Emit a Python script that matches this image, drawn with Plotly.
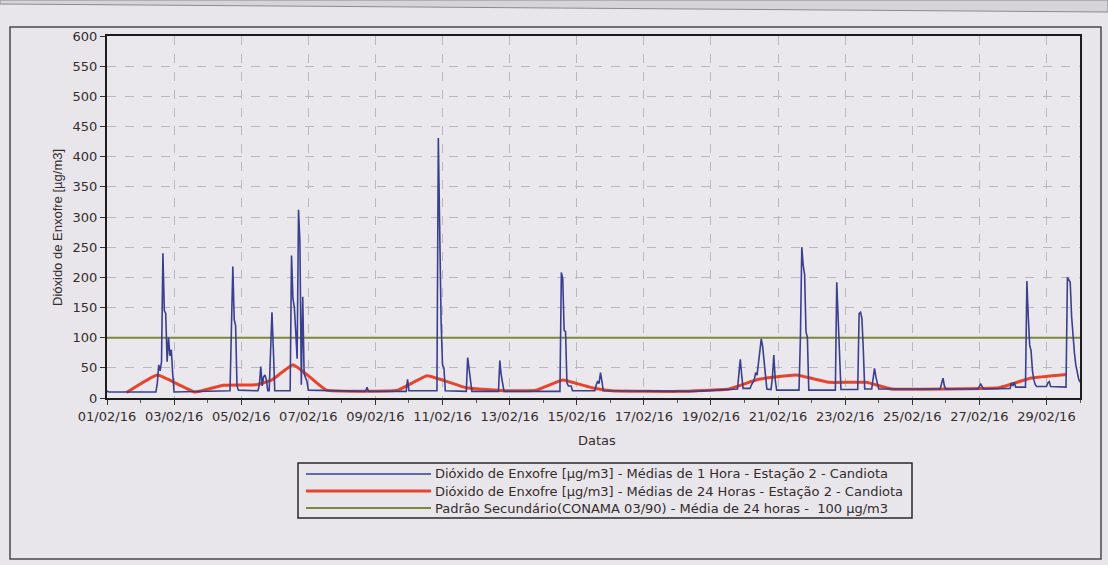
import plotly.graph_objects as go

# ---------------- data ----------------
blue_times = [
    "2016-02-01 00:00", "2016-02-01 01:00", "2016-02-02 11:00", "2016-02-02 12:00", "2016-02-02 13:00",
    "2016-02-02 14:00", "2016-02-02 15:00", "2016-02-02 16:00", "2016-02-02 17:00", "2016-02-02 18:00",
    "2016-02-02 19:00", "2016-02-02 20:00", "2016-02-02 21:00", "2016-02-02 22:00", "2016-02-02 23:00",
    "2016-02-03 00:00", "2016-02-04 16:00", "2016-02-04 17:00", "2016-02-04 18:00", "2016-02-04 19:00",
    "2016-02-04 20:00", "2016-02-04 21:00", "2016-02-04 22:00", "2016-02-05 12:00", "2016-02-05 13:00",
    "2016-02-05 14:00", "2016-02-05 15:00", "2016-02-05 16:00", "2016-02-05 17:00", "2016-02-05 18:00",
    "2016-02-05 19:00", "2016-02-05 20:00", "2016-02-05 21:00", "2016-02-05 22:00", "2016-02-05 23:00",
    "2016-02-06 00:00", "2016-02-06 11:00", "2016-02-06 12:00", "2016-02-06 13:00", "2016-02-06 14:00",
    "2016-02-06 15:00", "2016-02-06 16:00", "2016-02-06 17:00", "2016-02-06 18:00", "2016-02-06 19:00",
    "2016-02-06 20:00", "2016-02-06 21:00", "2016-02-06 22:00", "2016-02-06 23:00", "2016-02-07 00:00",
    "2016-02-08 17:00", "2016-02-08 18:00", "2016-02-08 19:00", "2016-02-09 22:00", "2016-02-09 23:00",
    "2016-02-10 00:00", "2016-02-10 20:00", "2016-02-10 21:00", "2016-02-10 22:00", "2016-02-10 23:00",
    "2016-02-11 00:00", "2016-02-11 01:00", "2016-02-11 02:00", "2016-02-11 17:00", "2016-02-11 18:00",
    "2016-02-11 19:00", "2016-02-11 20:00", "2016-02-11 21:00", "2016-02-12 16:00", "2016-02-12 17:00",
    "2016-02-12 18:00", "2016-02-12 19:00", "2016-02-12 20:00", "2016-02-14 12:00", "2016-02-14 13:00",
    "2016-02-14 14:00", "2016-02-14 15:00", "2016-02-14 16:00", "2016-02-14 17:00", "2016-02-14 18:00",
    "2016-02-14 20:00", "2016-02-14 21:00", "2016-02-15 13:00", "2016-02-15 14:00", "2016-02-15 15:00",
    "2016-02-15 16:00", "2016-02-15 17:00", "2016-02-15 18:00", "2016-02-15 19:00", "2016-02-18 12:00",
    "2016-02-19 12:00", "2016-02-19 19:00", "2016-02-19 20:00", "2016-02-19 21:00", "2016-02-19 22:00",
    "2016-02-19 23:00", "2016-02-20 04:00", "2016-02-20 05:00", "2016-02-20 07:00", "2016-02-20 08:00",
    "2016-02-20 09:00", "2016-02-20 10:00", "2016-02-20 11:00", "2016-02-20 12:00", "2016-02-20 13:00",
    "2016-02-20 14:00", "2016-02-20 15:00", "2016-02-20 16:00", "2016-02-20 19:00", "2016-02-20 20:00",
    "2016-02-20 21:00", "2016-02-20 22:00", "2016-02-20 23:00", "2016-02-21 15:00", "2016-02-21 16:00",
    "2016-02-21 17:00", "2016-02-21 18:00", "2016-02-21 19:00", "2016-02-21 20:00", "2016-02-21 21:00",
    "2016-02-21 22:00", "2016-02-22 17:00", "2016-02-22 18:00", "2016-02-22 19:00", "2016-02-22 20:00",
    "2016-02-22 21:00", "2016-02-23 09:00", "2016-02-23 10:00", "2016-02-23 11:00", "2016-02-23 12:00",
    "2016-02-23 13:00", "2016-02-23 14:00", "2016-02-23 19:00", "2016-02-23 20:00", "2016-02-23 21:00",
    "2016-02-23 22:00", "2016-02-23 23:00", "2016-02-24 00:00", "2016-02-25 20:00", "2016-02-25 21:00",
    "2016-02-25 22:00", "2016-02-25 23:00", "2016-02-26 00:00", "2016-02-26 23:00", "2016-02-27 01:00",
    "2016-02-27 03:00", "2016-02-27 22:00", "2016-02-27 23:00", "2016-02-28 00:00", "2016-02-28 01:00",
    "2016-02-28 02:00", "2016-02-28 09:00", "2016-02-28 10:00", "2016-02-28 11:00", "2016-02-28 12:00",
    "2016-02-28 13:00", "2016-02-28 14:00", "2016-02-28 15:00", "2016-02-28 16:00", "2016-02-28 17:00",
    "2016-02-29 00:00", "2016-02-29 01:00", "2016-02-29 02:00", "2016-02-29 03:00", "2016-02-29 14:00",
    "2016-02-29 15:00", "2016-02-29 16:00", "2016-02-29 17:00", "2016-02-29 18:00", "2016-02-29 19:00",
    "2016-02-29 20:00", "2016-02-29 21:00", "2016-02-29 22:00", "2016-02-29 23:00", "2016-03-01 00:00",
]
blue_values = [
    12, 10, 10, 25, 55,
    45, 60, 240, 145, 140,
    60, 100, 70, 80, 40,
    10, 12, 140, 218, 130,
    120, 20, 13, 12, 22,
    52, 20, 35, 38, 30,
    12, 12, 75, 142, 80,
    12, 12, 236, 165, 150,
    110, 65, 312, 258, 22,
    168, 40, 35, 28, 13,
    11, 18, 11, 11, 31,
    12, 12, 431, 275, 125,
    55, 50, 12, 11, 67,
    50, 25, 11, 11, 62,
    38, 25, 11, 11, 208,
    198, 112, 110, 25, 20,
    20, 12, 12, 22, 28,
    24, 42, 28, 12, 11,
    14, 15, 40, 64, 38,
    16, 16, 22, 30, 42,
    38, 62, 80, 98, 85,
    60, 40, 15, 14, 35,
    71, 30, 13, 13, 100,
    250, 220, 205, 110, 100,
    13, 13, 192, 135, 75,
    14, 14, 140, 142, 132,
    80, 15, 15, 30, 49,
    35, 25, 15, 15, 25,
    33, 20, 15, 15, 23,
    15, 16, 25, 20, 26,
    18, 18, 194, 135, 88,
    78, 45, 30, 22, 19,
    19, 25, 27, 19, 18,
    200, 197, 192, 135, 100,
    75, 55, 42, 32, 26,
]

red_times = [
    "2016-02-01 14:00", "2016-02-02 12:00", "2016-02-03 15:00", "2016-02-04 11:00", "2016-02-05 11:00",
    "2016-02-05 22:00", "2016-02-06 13:00", "2016-02-07 01:00", "2016-02-07 13:00", "2016-02-09 16:00",
    "2016-02-10 13:00", "2016-02-11 17:00", "2016-02-12 22:00", "2016-02-13 19:00", "2016-02-14 14:00",
    "2016-02-15 11:00", "2016-02-16 01:00", "2016-02-18 01:00", "2016-02-19 13:00", "2016-02-20 10:00",
    "2016-02-21 13:00", "2016-02-22 12:00", "2016-02-23 15:00", "2016-02-24 09:00", "2016-02-26 00:00",
    "2016-02-27 14:00", "2016-02-28 13:00", "2016-02-29 14:00",
]
red_values = [
    9, 38, 10, 21, 22,
    30, 55, 35, 13, 13,
    37, 17, 12, 13, 30,
    17, 12, 11, 15, 31,
    38, 26, 26, 15, 15,
    17, 33, 39,
]

standard_times = ["2016-02-01 00:00", "2016-03-01 00:00"]
standard_values = [100, 100]

x_range = ["2016-02-01 00:00", "2016-03-01 00:00"]
y_range = [0, 600]

series_names = [
    "Dióxido de Enxofre [µg/m3] - Médias de 1 Hora - Estação 2 - Candiota",
    "Dióxido de Enxofre [µg/m3] - Médias de 24 Horas - Estação 2 - Candiota",
    "Padrão Secundário(CONAMA 03/90) - Média de 24 horas -  100 µg/m3",
]
y_title = "Dióxido de Enxofre [µg/m3]"
x_title = "Datas"

BLUE = "#3a3f8e"
RED = "#e8442c"
GREEN = "#7c8840"
BG = "#e8e6eb"
TEXT = "#342c2c"
WIDE_FONT = "DejaVu Sans, Verdana, sans-serif"
NARROW_FONT = "Liberation Sans, Arial, sans-serif"

# ---------------- layout geometry (page pixels) ----------------
W, H = 1108, 565
L, R, T, B = 107, 1080, 36, 398


def px_x(px):
    return (px - L) / (R - L)


def px_y(py):
    return (B - py) / (B - T)


fig = go.Figure()
fig.add_trace(go.Scatter(x=standard_times, y=standard_values, mode="lines",
                         line=dict(color=GREEN, width=2), name=series_names[2], showlegend=False))
fig.add_trace(go.Scatter(x=red_times, y=red_values, mode="lines",
                         line=dict(color=RED, width=3, shape="spline", smoothing=0.3),
                         name=series_names[1], showlegend=False))
fig.add_trace(go.Scatter(x=blue_times, y=blue_values, mode="lines",
                         line=dict(color=BLUE, width=1.6), name=series_names[0], showlegend=False))

tick_font = dict(family=WIDE_FONT, size=13, color=TEXT)

fig.update_layout(
    width=W, height=H,
    margin=dict(l=L, r=W - R, t=T, b=H - B, pad=0),
    paper_bgcolor=BG,
    plot_bgcolor="#eae8ed",
    showlegend=False,
    font=dict(family=WIDE_FONT, size=12, color=TEXT),
)
fig.update_xaxes(
    type="date", range=x_range, tick0="2016-02-01", dtick=2 * 86400000,
    tickformat="%d/%m/%y", tickfont=tick_font,
    ticks="outside", ticklen=5, tickcolor="#333",
    minor=dict(dtick=86400000, ticks="outside", ticklen=3, tickcolor="#555", showgrid=False),
    showgrid=True, gridcolor="#b9b7c2", griddash="dash", gridwidth=1,
    showline=True, linecolor="#1c1c1c", linewidth=2, mirror=True, zeroline=False,
)
fig.update_yaxes(
    range=y_range, dtick=50, tickfont=tick_font,
    ticks="outside", ticklen=5, tickcolor="#333",
    showgrid=True, gridcolor="#b9b7c2", griddash="dash", gridwidth=1,
    showline=True, linecolor="#1c1c1c", linewidth=2, mirror=True, zeroline=False,
)

shapes = []
annotations = []
# scanned page top edge
shapes.append(dict(type="path", xref="paper", yref="paper",
                   path="M %f %f L %f %f L %f %f L %f %f Z" % (
                       px_x(0), px_y(0), px_x(1108), px_y(0), px_x(1108), px_y(12), px_x(0), px_y(4)),
                   fillcolor="#d6d4d9", line=dict(color="#8c8a90", width=1), layer="below"))
# outer frame
shapes.append(dict(type="rect", xref="paper", yref="paper",
                   x0=px_x(10), x1=px_x(1101), y0=px_y(559), y1=px_y(27),
                   line=dict(color="#4a4a4a", width=1.5), layer="below"))
# legend box
shapes.append(dict(type="rect", xref="paper", yref="paper",
                   x0=px_x(298), x1=px_x(912), y0=px_y(518), y1=px_y(463),
                   line=dict(color="#2a2a2a", width=1.5)))
legend_rows = [474, 491, 508]
legend_styles = [(BLUE, 1.3), (RED, 3), (GREEN, 2)]
for row, (col, wid), name in zip(legend_rows, legend_styles, series_names):
    shapes.append(dict(type="line", xref="paper", yref="paper",
                       x0=px_x(306), x1=px_x(431), y0=px_y(row), y1=px_y(row),
                       line=dict(color=col, width=wid)))
    annotations.append(dict(xref="paper", yref="paper", x=px_x(433), y=px_y(row),
                            text=name, showarrow=False, xanchor="left", yanchor="middle",
                            font=dict(family=WIDE_FONT, size=13, color=TEXT)))

annotations.append(dict(xref="paper", yref="paper", x=px_x(57), y=px_y(228),
                        text=y_title, showarrow=False, textangle=-90,
                        xanchor="center", yanchor="middle",
                        font=dict(family=NARROW_FONT, size=13, color=TEXT)))
annotations.append(dict(xref="paper", yref="paper", x=px_x(597), y=px_y(440),
                        text=x_title, showarrow=False, xanchor="center", yanchor="middle",
                        font=dict(family=WIDE_FONT, size=13, color=TEXT)))

fig.update_layout(shapes=shapes, annotations=annotations)

fig.write_html(
    "out.html",
    config={"displayModeBar": False},
    post_script="document.body.style.margin='0';document.body.style.background='%s';" % BG,
)
